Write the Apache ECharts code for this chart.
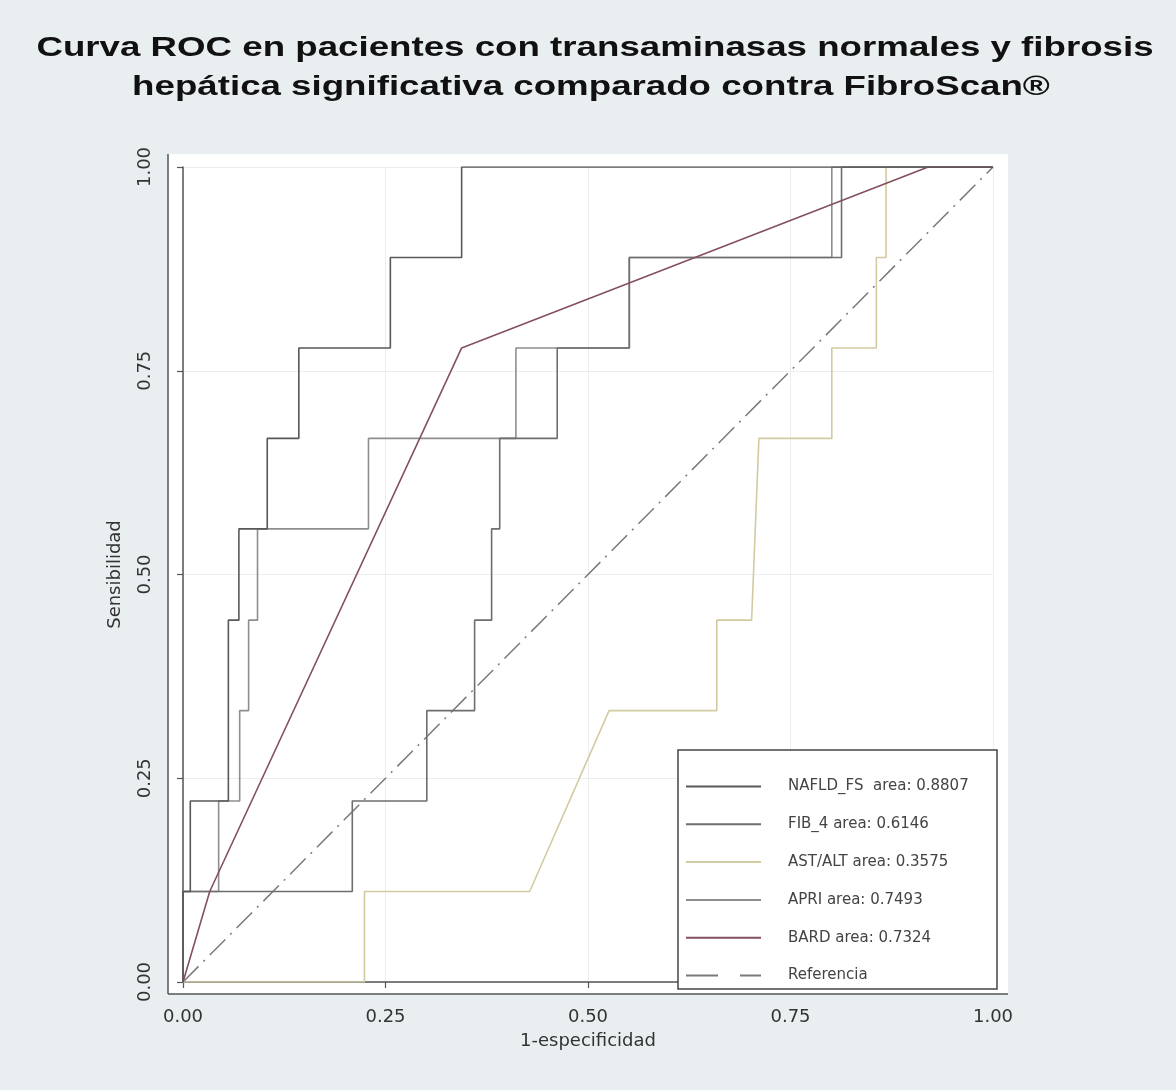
<!DOCTYPE html>
<html>
<head>
<meta charset="utf-8">
<script src="https://cdn.jsdelivr.net/npm/echarts@6/dist/echarts.min.js"></script>
<style>
html,body{margin:0;padding:0;background:#e9eff1;}
#chart{width:1176px;height:1090px;}
</style>
</head>
<body>
<div id="chart"></div>
<script>
// ---- data (1-especificidad, sensibilidad) ----
var seriesNames = ['NAFLD_FS  area: 0.8807', 'FIB_4 area: 0.6146', 'AST/ALT area: 0.3575', 'APRI area: 0.7493', 'BARD area: 0.7324', 'Referencia'];

var nafldX = [0, 0, 0.009, 0.009, 0.056, 0.056, 0.069, 0.069, 0.104, 0.104, 0.143, 0.143, 0.256, 0.256, 0.344, 0.344, 1];
var nafldY = [0, 0.111, 0.111, 0.222, 0.222, 0.444, 0.444, 0.556, 0.556, 0.667, 0.667, 0.778, 0.778, 0.889, 0.889, 1, 1];

var fib4X = [0, 0, 0.209, 0.209, 0.301, 0.301, 0.360, 0.360, 0.381, 0.381, 0.391, 0.391, 0.462, 0.462, 0.551, 0.551, 0.813, 0.813, 1];
var fib4Y = [0, 0.111, 0.111, 0.222, 0.222, 0.333, 0.333, 0.444, 0.444, 0.556, 0.556, 0.667, 0.667, 0.778, 0.778, 0.889, 0.889, 1, 1];

var astaltX = [0, 0.224, 0.224, 0.428, 0.526, 0.659, 0.659, 0.702, 0.711, 0.801, 0.801, 0.856, 0.856, 0.868, 0.868, 1];
var astaltY = [0, 0, 0.111, 0.111, 0.333, 0.333, 0.444, 0.444, 0.667, 0.667, 0.778, 0.778, 0.889, 0.889, 1, 1];

var apriX = [0, 0, 0.044, 0.044, 0.070, 0.070, 0.081, 0.081, 0.092, 0.092, 0.229, 0.229, 0.411, 0.411, 0.551, 0.551, 0.801, 0.801, 1];
var apriY = [0, 0.111, 0.111, 0.222, 0.222, 0.333, 0.333, 0.444, 0.444, 0.556, 0.556, 0.667, 0.667, 0.778, 0.778, 0.889, 0.889, 1, 1];

var bardX = [0, 0.033, 0.344, 0.92, 1];
var bardY = [0, 0.111, 0.778, 1, 1];

var refX = [0, 1];
var refY = [0, 1];

var tickLabels = ['0.00', '0.25', '0.50', '0.75', '1.00'];

function pairs(xs, ys) {
  var out = [];
  for (var i = 0; i < xs.length; i++) out.push([xs[i], ys[i]]);
  return out;
}
function tickFmt(v) {
  var i = Math.round(v / 0.25);
  return tickLabels[i] !== undefined ? tickLabels[i] : '';
}

var colors = ['#585858', '#6e6e6e', '#d2cba2', '#8e8e8e', '#84505f', '#7a7a7a'];
var lineW = 1.6;

var chart = echarts.init(document.getElementById('chart'), null, {renderer: 'canvas'});

var option = {
  animation: false,
  backgroundColor: '#e9eff1',
  graphic: [
    {type: 'rect', z: -10, shape: {x: 168, y: 154, width: 840, height: 840}, style: {fill: '#ffffff'}},
    {type: 'line', z: 5, shape: {x1: 168, y1: 154, x2: 168, y2: 994}, style: {stroke: '#555', lineWidth: 1.5}},
    {type: 'line', z: 5, shape: {x1: 168, y1: 994, x2: 1008, y2: 994}, style: {stroke: '#555', lineWidth: 1.5}},
    {type: 'rect', z: 20, shape: {x: 678, y: 750, width: 319, height: 239}, style: {fill: '#ffffff', stroke: '#444', lineWidth: 1.5}},
    {type: 'text', z: 30, x: 595, y: 48, scaleX: 1.31,
      style: {text: 'Curva ROC en pacientes con transaminasas normales y fibrosis', font: 'bold 28px "Liberation Sans", Arial, sans-serif', fill: '#111', align: 'center', verticalAlign: 'middle'}},
    {type: 'text', z: 30, x: 591, y: 87, scaleX: 1.31,
      style: {text: 'hepática significativa comparado contra FibroScan®', font: 'bold 28px "Liberation Sans", Arial, sans-serif', fill: '#111', align: 'center', verticalAlign: 'middle'}}
  ],
  grid: {left: 183, right: 183, top: 167, bottom: 108, containLabel: false},
  legend: {
    orient: 'vertical',
    left: 680,
    top: 774,
    z: 25,
    itemWidth: 75,
    itemHeight: 14,
    itemGap: 22.8,
    padding: 5,
    itemStyle: {opacity: 0},
    textStyle: {fontFamily: '"DejaVu Sans", sans-serif', fontSize: 15, color: '#444', padding: [0, 0, 0, 22]},
    data: [
      {name: seriesNames[0]},
      {name: seriesNames[1]},
      {name: seriesNames[2]},
      {name: seriesNames[3]},
      {name: seriesNames[4]},
      {name: seriesNames[5], lineStyle: {type: [32, 22]}}
    ]
  },
  xAxis: {
    type: 'value', min: 0, max: 1, interval: 0.25,
    offset: 12,
    axisLine: {show: true, lineStyle: {color: '#555', width: 1.5}},
    axisTick: {show: true, length: 6, lineStyle: {color: '#555', width: 1.2}},
    axisLabel: {formatter: tickFmt, fontFamily: '"DejaVu Sans", sans-serif', fontSize: 18, color: '#333', margin: 14},
    splitLine: {show: true, lineStyle: {color: '#eceeee', width: 1}},
    name: '1-especificidad', nameLocation: 'middle', nameGap: 38,
    nameTextStyle: {fontFamily: '"DejaVu Sans", sans-serif', fontSize: 18, color: '#333'}
  },
  yAxis: {
    type: 'value', min: 0, max: 1, interval: 0.25,
    offset: 15,
    axisLine: {show: true, lineStyle: {color: '#555', width: 1.5}},
    axisTick: {show: true, length: 6, lineStyle: {color: '#555', width: 1.2}},
    axisLabel: {formatter: tickFmt, rotate: 90, fontFamily: '"DejaVu Sans", sans-serif', fontSize: 18, color: '#333', margin: 14},
    splitLine: {show: true, lineStyle: {color: '#eceeee', width: 1}},
    name: 'Sensibilidad', nameLocation: 'middle', nameGap: 44, nameRotate: 90,
    nameTextStyle: {fontFamily: '"DejaVu Sans", sans-serif', fontSize: 18, color: '#333'}
  },
  series: [
    {name: seriesNames[5], type: 'line', data: pairs(refX, refY), symbol: 'none', z: 2,
      lineStyle: {color: colors[5], width: 1.5, type: [22, 7, 2, 7]}, itemStyle: {color: colors[5]}},
    {name: seriesNames[2], type: 'line', data: pairs(astaltX, astaltY), symbol: 'none', z: 3,
      lineStyle: {color: colors[2], width: lineW}, itemStyle: {color: colors[2]}},
    {name: seriesNames[3], type: 'line', data: pairs(apriX, apriY), symbol: 'none', z: 4,
      lineStyle: {color: colors[3], width: lineW}, itemStyle: {color: colors[3]}},
    {name: seriesNames[1], type: 'line', data: pairs(fib4X, fib4Y), symbol: 'none', z: 5,
      lineStyle: {color: colors[1], width: lineW}, itemStyle: {color: colors[1]}},
    {name: seriesNames[4], type: 'line', data: pairs(bardX, bardY), symbol: 'none', z: 6,
      lineStyle: {color: colors[4], width: lineW}, itemStyle: {color: colors[4]}},
    {name: seriesNames[0], type: 'line', data: pairs(nafldX, nafldY), symbol: 'none', z: 7,
      lineStyle: {color: colors[0], width: lineW}, itemStyle: {color: colors[0]}}
  ]
};
chart.setOption(option);
</script>
</body>
</html>
